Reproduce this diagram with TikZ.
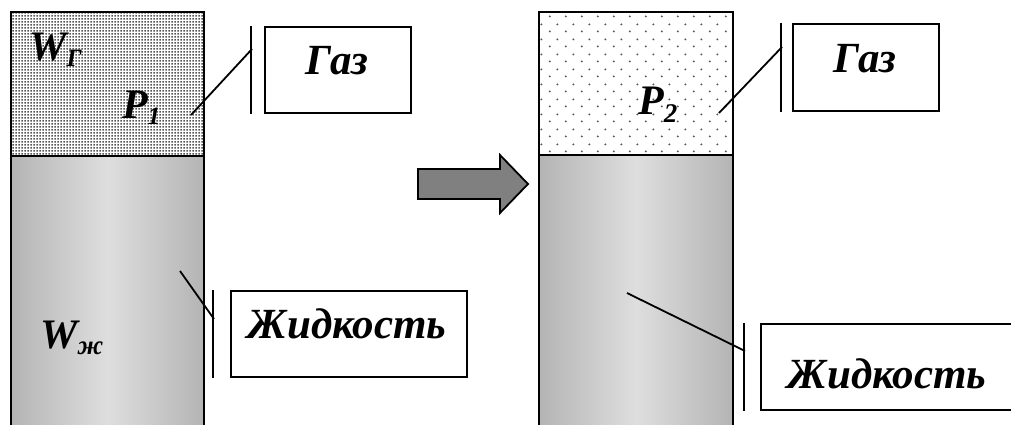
\documentclass[tikz,border=0pt]{standalone}
\usepackage{fontspec}
\setmainfont{Liberation Serif}
\usetikzlibrary{patterns}
\pgfdeclarepatternformonly{finedots}{\pgfqpoint{0pt}{0pt}}{\pgfqpoint{3pt}{3pt}}{\pgfqpoint{3pt}{3pt}}{\pgfpathrectangle{\pgfqpoint{0.5pt}{0.5pt}}{\pgfqpoint{2pt}{2pt}}\pgfusepath{fill}}
\pgfdeclarepatternformonly{sparsedots}{\pgfqpoint{0pt}{0pt}}{\pgfqpoint{15.6pt}{15pt}}{\pgfqpoint{15.6pt}{15pt}}{\pgfpathcircle{\pgfqpoint{3.9pt}{3.75pt}}{1.1pt}\pgfpathcircle{\pgfqpoint{11.7pt}{11.25pt}}{1.1pt}\pgfusepath{fill}}
\definecolor{liqedge}{RGB}{180,180,180}
\definecolor{liqmid}{RGB}{222,222,222}
\definecolor{dotgray}{RGB}{85,85,85}
\definecolor{arrowgray}{RGB}{128,128,128}
\begin{document}
\begin{tikzpicture}[x=1pt,y=-1pt,
  wall/.style={line width=2.4pt},
  callbox/.style={draw,line width=2.2pt,fill=white,inner sep=0pt},
  leader/.style={line width=1.8pt},
  accent/.style={line width=2.2pt},
  lbl/.style={inner sep=0pt,font=\fontsize{42}{44}\selectfont\bfseries\itshape},
  boxtxt/.style={inner sep=0pt,anchor=base,font=\fontsize{43}{46}\selectfont\bfseries\itshape}]
\useasboundingbox (0,0) rectangle (1011,425);
% left column
\fill[pattern=finedots,pattern color=dotgray] (11,12) rectangle (204,156);
\shade[left color=liqedge,right color=liqedge,middle color=liqmid] (11,156) rectangle (204,430);
\draw[wall] (11,430) -- (11,12) -- (204,12) -- (204,430);
\draw[wall] (11,156) -- (204,156);
% right column
\fill[pattern=sparsedots,pattern color=dotgray] (539,12) rectangle (733,155);
\shade[left color=liqedge,right color=liqedge,middle color=liqmid] (539,155) rectangle (733,430);
\draw[wall] (539,430) -- (539,12) -- (733,12) -- (733,430);
\draw[wall] (539,155) -- (733,155);
% arrow
\draw[fill=arrowgray,line width=1.8pt,line join=miter]
  (418,169) -- (500,169) -- (500,155) -- (528,184) -- (500,213) -- (500,199) -- (418,199) -- cycle;
% labels in columns
\node[lbl,anchor=base west] (wg) at (29,61) {W\raisebox{-6pt}{\fontsize{25}{27}\selectfont Г}};
\node[lbl,anchor=base west] (p1) at (122,118) {P\raisebox{-6pt}{\fontsize{25}{27}\selectfont 1}};
\node[lbl,anchor=base west] (p2) at (638,114) {P\raisebox{-8pt}{\fontsize{27}{29}\selectfont 2}};
\node[lbl,anchor=base west] (wz) at (40,348) {W\raisebox{-6pt}{\fontsize{27}{29}\selectfont ж}};
% callout boxes
\node[callbox,minimum width=146pt,minimum height=86pt] (gasL) at (338,70) {};
\node[boxtxt] (gasLt) at (337,75) {Газ};
\node[callbox,minimum width=146pt,minimum height=87pt] (gasR) at (866,67.5) {};
\node[boxtxt] (gasRt) at (865,73) {Газ};
\node[callbox,minimum width=236pt,minimum height=86pt] (liqL) at (349,334) {};
\node[boxtxt] (liqLt) at (347,338) {Жидкость};
\node[callbox,minimum width=256pt,minimum height=86pt] (liqR) at (889,367) {};
\node[boxtxt] (liqRt) at (887,388) {Жидкость};
% accent bars
\draw[accent] ([xshift=-13pt]gasL.north west) -- ([xshift=-13pt]gasL.south west);
\draw[accent] ([xshift=-11pt]gasR.north west) -- ([xshift=-11pt]gasR.south west);
\draw[accent] ([xshift=-17pt]liqL.north west) -- ([xshift=-17pt]liqL.south west);
\draw[accent] ([xshift=-16pt]liqR.north west) -- ([xshift=-16pt]liqR.south west);
% leader lines
\coordinate (aGL) at (191,115); \coordinate (eGL) at (252,49);
\coordinate (aGR) at (719,113); \coordinate (eGR) at (782,47);
\coordinate (aLL) at (180,271); \coordinate (eLL) at (214,319);
\coordinate (aLR) at (627,293); \coordinate (eLR) at (745,351);
\draw[leader] (aGL) -- (eGL);
\draw[leader] (aGR) -- (eGR);
\draw[leader] (aLL) -- (eLL);
\draw[leader] (aLR) -- (eLR);
\end{tikzpicture}
\end{document}
